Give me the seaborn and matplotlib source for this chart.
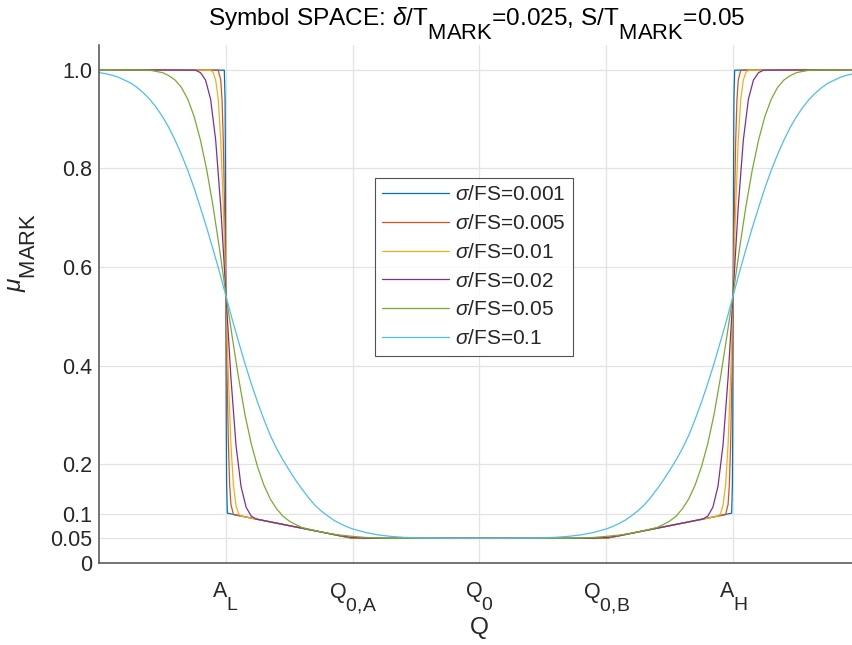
import numpy as np
import pandas as pd
import matplotlib
matplotlib.use("Agg")
import matplotlib.pyplot as plt
import matplotlib._mathtext as mtext
import seaborn as sns

# subindices grandes como en la figura original (estilo TeX de MATLAB)
mtext.SHRINK_FACTOR = 0.9
mtext.FontConstantsBase.sub1 = 1.1

# curvas sigma/FS (Q en unidades de marca: A_L=-2 ... A_H=2)
q_001 = [-3, -2.012, -2.006, -2.003, -2.0, -1.997, -1.994, -1.988, -1.0,
         1.0, 1.988, 1.994, 1.997, 2.0, 2.003, 2.006, 2.012, 3]
mu_001 = [1.0, 0.999, 0.94, 0.796, 0.55, 0.304, 0.16, 0.101, 0.05,
          0.05, 0.101, 0.16, 0.304, 0.55, 0.796, 0.94, 0.999, 1.0]

q_005 = [-3, -2.06, -2.04, -2.03, -2.02, -2.01, -2.0, -1.99, -1.98, -1.97, -1.96, -1.94, -1.0,
         1.0, 1.94, 1.96, 1.97, 1.98, 1.99, 2.0, 2.01, 2.02, 2.03, 2.04, 2.06, 3]
mu_005 = [1.0, 0.999, 0.979, 0.94, 0.857, 0.722, 0.55, 0.378, 0.242, 0.159, 0.119, 0.098, 0.05,
          0.05, 0.098, 0.119, 0.159, 0.242, 0.378, 0.55, 0.722, 0.857, 0.94, 0.979, 0.999, 1.0]

q_01 = [-3, -2.12, -2.10, -2.08, -2.06, -2.04, -2.02, -2.0, -1.98, -1.96, -1.94, -1.92, -1.90, -1.88,
        -1.1, -1.0, -0.9, 0.9, 1.0, 1.1,
        1.88, 1.90, 1.92, 1.94, 1.96, 1.98, 2.0, 2.02, 2.04, 2.06, 2.08, 2.10, 2.12, 3]
mu_01 = [1.0, 0.999, 0.994, 0.979, 0.94, 0.857, 0.722, 0.549, 0.377, 0.241, 0.157, 0.117, 0.1, 0.095,
         0.055, 0.0508, 0.05, 0.05, 0.0508, 0.055,
         0.095, 0.1, 0.117, 0.157, 0.241, 0.377, 0.549, 0.722, 0.857, 0.94, 0.979, 0.994, 0.999, 1.0]

q_02 = [-3, -2.24, -2.2, -2.16, -2.12, -2.08, -2.04, -2.0, -1.96, -1.92, -1.88, -1.84, -1.8, -1.76,
        -1.1, -1.0, -0.9, -0.8, 0.8, 0.9, 1.0, 1.1,
        1.76, 1.8, 1.84, 1.88, 1.92, 1.96, 2.0, 2.04, 2.08, 2.12, 2.16, 2.2, 2.24, 3]
mu_02 = [1.0, 0.999, 0.994, 0.979, 0.94, 0.857, 0.722, 0.548, 0.376, 0.239, 0.155, 0.113, 0.095, 0.089,
         0.0553, 0.0516, 0.0502, 0.05, 0.05, 0.0502, 0.0516, 0.0553,
         0.089, 0.095, 0.113, 0.155, 0.239, 0.376, 0.548, 0.722, 0.857, 0.94, 0.979, 0.994, 0.999, 1.0]

q_05_izq = [-3, -2.7, -2.6, -2.5, -2.45, -2.4, -2.35, -2.3, -2.25, -2.2, -2.15, -2.1, -2.05, -2.0,
            -1.95, -1.9, -1.85, -1.8, -1.75, -1.7, -1.65, -1.6, -1.55, -1.5, -1.45, -1.4, -1.3,
            -1.2, -1.1, -1.0, -0.9, -0.8, -0.7]
mu_05_izq = [1.0, 0.9995, 0.999, 0.994, 0.988, 0.979, 0.964, 0.94, 0.905, 0.857, 0.796, 0.722, 0.637, 0.545,
             0.459, 0.376, 0.302, 0.242, 0.195, 0.158, 0.13, 0.11, 0.095, 0.085, 0.078, 0.072, 0.066,
             0.0605, 0.0565, 0.054, 0.0518, 0.0506, 0.0501]
q_05_der = [0.7, 0.8, 0.9, 1.0, 1.1, 1.2, 1.3, 1.4, 1.45, 1.5, 1.55, 1.6, 1.65, 1.7, 1.75, 1.8, 1.85,
            1.9, 1.95, 2.0, 2.05, 2.1, 2.15, 2.2, 2.25, 2.3, 2.35, 2.4, 2.45, 2.5, 2.6, 2.7, 3]
mu_05_der = [0.0501, 0.0506, 0.0518, 0.054, 0.0565, 0.0605, 0.066, 0.072, 0.078, 0.085, 0.095, 0.11, 0.13,
             0.158, 0.195, 0.242, 0.302, 0.376, 0.459, 0.545, 0.637, 0.722, 0.796, 0.857, 0.905, 0.94,
             0.964, 0.979, 0.988, 0.994, 0.999, 0.9995, 1.0]

q_1_izq = [-3.0, -2.95, -2.9, -2.85, -2.8, -2.75, -2.7, -2.65, -2.6, -2.55, -2.5, -2.45, -2.4, -2.35,
           -2.3, -2.25, -2.2, -2.15, -2.1, -2.05, -2.0, -1.95, -1.9, -1.85, -1.8, -1.75, -1.7, -1.65,
           -1.6, -1.55, -1.5, -1.45, -1.4, -1.35, -1.3, -1.25, -1.2, -1.15, -1.1, -1.05, -1.0,
           -0.9, -0.8, -0.7, -0.6, -0.5, -0.4, -0.2, 0.0]
mu_1_izq = [0.994, 0.992, 0.989, 0.985, 0.979, 0.973, 0.964, 0.953, 0.940, 0.924, 0.905, 0.883, 0.857, 0.828,
            0.796, 0.760, 0.720, 0.679, 0.635, 0.590, 0.542, 0.494, 0.449, 0.405, 0.364, 0.326, 0.291, 0.259,
            0.232, 0.209, 0.188, 0.168, 0.150, 0.133, 0.118, 0.106, 0.096, 0.087, 0.080, 0.074, 0.069,
            0.062, 0.057, 0.054, 0.052, 0.051, 0.0505, 0.05, 0.05]
q_1_der = [0.2, 0.4, 0.5, 0.6, 0.7, 0.8, 0.9, 1.0, 1.05, 1.1, 1.15, 1.2, 1.25, 1.3, 1.35, 1.4, 1.45,
           1.5, 1.55, 1.6, 1.65, 1.7, 1.75, 1.8, 1.85, 1.9, 1.95, 2.0, 2.05, 2.1, 2.15, 2.2, 2.25,
           2.3, 2.35, 2.4, 2.45, 2.5, 2.55, 2.6, 2.65, 2.7, 2.75, 2.8, 2.85, 2.9, 2.95, 3.0]
mu_1_der = [0.05, 0.0505, 0.051, 0.052, 0.054, 0.057, 0.062, 0.069, 0.074, 0.080, 0.087, 0.096, 0.106,
            0.118, 0.133, 0.150, 0.168, 0.188, 0.209, 0.232, 0.259, 0.291, 0.326, 0.364, 0.405, 0.449,
            0.494, 0.542, 0.590, 0.635, 0.679, 0.720, 0.760, 0.796, 0.828, 0.857, 0.883, 0.905, 0.924,
            0.940, 0.953, 0.964, 0.973, 0.979, 0.985, 0.989, 0.992, 0.994]

labels = [r"$\sigma$/FS=0.001", r"$\sigma$/FS=0.005", r"$\sigma$/FS=0.01",
          r"$\sigma$/FS=0.02", r"$\sigma$/FS=0.05", r"$\sigma$/FS=0.1"]
colores = ["#0072BD", "#D95319", "#EDB120", "#7E2F8E", "#77AC30", "#4DBEEE"]

xticks = [-2, -1, 0, 1, 2]
xlabels = [r"A$_\mathregular{L}$", r"Q$_\mathregular{0{,}A}$", r"Q$_\mathregular{0}$",
           r"Q$_\mathregular{0{,}B}$", r"A$_\mathregular{H}$"]
yticks = [0, 0.05, 0.1, 0.2, 0.4, 0.6, 0.8, 1.0]
ylabels = ["0", "0.05", "0.1", "0.2", "0.4", "0.6", "0.8", "1.0"]

sns.set_style("white")
plt.rcParams["font.family"] = ["Liberation Sans", "DejaVu Sans"]
plt.rcParams["mathtext.fontset"] = "custom"
plt.rcParams["mathtext.rm"] = "Liberation Sans"
plt.rcParams["mathtext.it"] = "Liberation Sans:italic"
plt.rcParams["mathtext.bf"] = "Liberation Sans:bold"

curvas = [(q_001, mu_001), (q_005, mu_005), (q_01, mu_01), (q_02, mu_02),
          (q_05_izq + q_05_der, mu_05_izq + mu_05_der),
          (q_1_izq + q_1_der, mu_1_izq + mu_1_der)]
frames = []
for (q, mu), lab in zip(curvas, labels):
    frames.append(pd.DataFrame({"Q": q, "mu": mu, "curva": lab}))
df = pd.concat(frames, ignore_index=True)

fig = plt.figure(figsize=(8.53, 6.45), dpi=100)
ax = fig.add_axes([99 / 853, 82 / 645, 761 / 853, 518 / 645])

sns.lineplot(data=df, x="Q", y="mu", hue="curva", hue_order=labels, palette=colores,
             estimator=None, sort=False, linewidth=0.9, ax=ax)

ax.set_xlim(-3, 3)
ax.set_ylim(0, 1.05)
ax.set_xticks(xticks)
ax.set_xticklabels(xlabels)
ax.set_yticks(yticks)
ax.set_yticklabels(ylabels)
ax.grid(True, color="#e3e3e3", linewidth=0.9)
ax.set_axisbelow(True)
for s in ["top", "right"]:
    ax.spines[s].set_visible(False)
for s in ["left", "bottom"]:
    ax.spines[s].set_color("#505050")
    ax.spines[s].set_linewidth(1.1)
ax.tick_params(direction="in", length=5, width=0.9, color="#262626",
               labelsize=15.5, labelcolor="#262626")
ax.tick_params(axis="x", pad=13)
ax.tick_params(axis="y", pad=5)

ax.set_xlabel("Q", fontsize=17.6, color="#262626")
ax.set_ylabel(r"$\mu_\mathregular{MARK}$", fontsize=17.6, color="#262626")
ax.yaxis.set_label_coords(-0.08, 0.6)
ax.xaxis.set_label_coords(0.5, -0.105)
ax.set_title(r"Symbol SPACE: $\delta$/T$_\mathregular{MARK}$=0.025, S/T$_\mathregular{MARK}$=0.05",
             fontsize=17.6, color="black", x=(477 - 99) / 761, pad=14)

leg = ax.legend(loc="upper left", bbox_to_anchor=((375 - 99) / 761, (563 - 178) / 518),
                fontsize=15, frameon=True, fancybox=False, edgecolor="#262626",
                handlelength=3.2, handletextpad=0.3, labelspacing=0.47, borderpad=0.35,
                borderaxespad=0)
leg.get_frame().set_linewidth(0.8)

plt.savefig("out.png", dpi=100)
